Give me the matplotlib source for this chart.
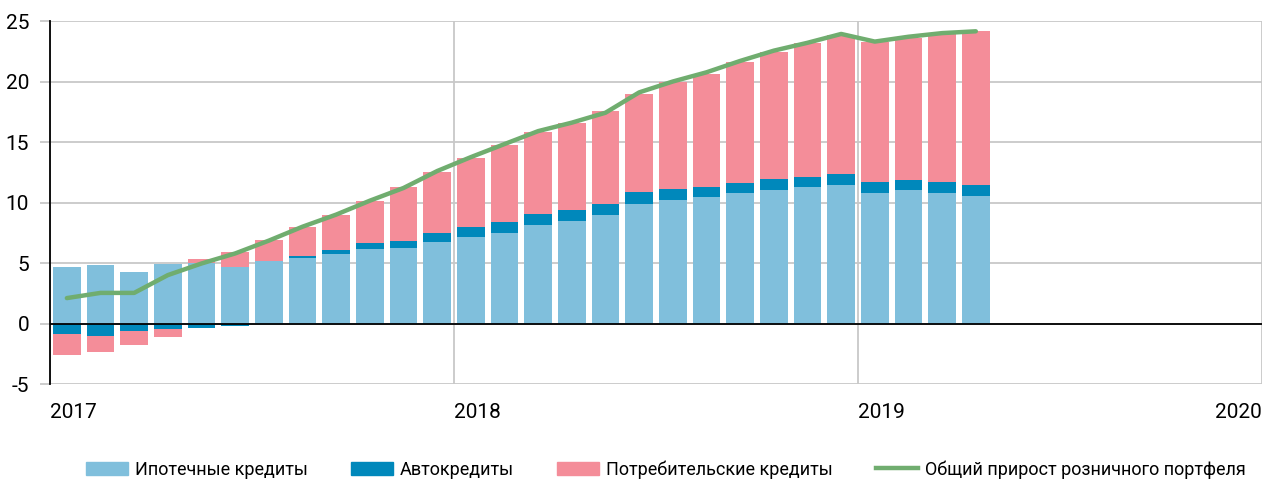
import numpy as np
import matplotlib.pyplot as plt
from matplotlib.patches import Patch
from matplotlib.lines import Line2D

plt.rcParams['font.family'] = ['Roboto', 'DejaVu Sans']
plt.rcParams['axes.unicode_minus'] = False

# monthly data, Jan 2017 - Apr 2019, percent
mortgage = [4.66, 4.82, 4.22, 4.93, 5.0, 4.66, 5.15, 5.43, 5.73, 6.17, 6.25, 6.75,
            7.14, 7.5, 8.13, 8.46, 8.96, 9.89, 10.2, 10.42, 10.78, 11.03, 11.25, 11.44,
            10.8, 11.0, 10.8, 10.53]
auto = [-0.88, -1.05, -0.66, -0.47, -0.36, -0.2, 0.0, 0.16, 0.36, 0.5, 0.58, 0.72,
        0.83, 0.85, 0.88, 0.91, 0.93, 0.97, 0.9, 0.85, 0.85, 0.91, 0.88, 0.91,
        0.89, 0.85, 0.92, 0.94]
consumer = [-1.72, -1.30, -1.11, -0.66, 0.29, 1.24, 1.74, 2.4, 2.91, 3.47, 4.42, 5.07,
            5.7, 6.42, 6.81, 7.2, 7.64, 8.13, 8.86, 9.38, 10.01, 10.53, 11.03, 11.5,
            11.58, 11.77, 12.27, 12.71]
total = [2.1, 2.53, 2.53, 4.0, 4.96, 5.79, 6.85, 8.0, 9.0, 10.15, 11.2, 12.6,
         13.75, 14.83, 15.9, 16.6, 17.42, 19.1, 20.0, 20.76, 21.7, 22.55, 23.2, 23.93,
         23.3, 23.7, 24.0, 24.15]
year_labels = ['2017', '2018', '2019', '2020']
names = ['Ипотечные кредиты', 'Автокредиты', 'Потребительские кредиты',
         'Общий прирост розничного портфеля']

c_mort = '#80bfdc'
c_auto = '#0088bb'
c_cons = '#f48d99'
c_line = '#70ad6f'
c_grid = '#c8c8c8'

fig = plt.figure(figsize=(12.76, 4.84), dpi=100)
ax = fig.add_axes([0.0392, 0.2066, 0.9498, 0.75])

x = np.arange(len(mortgage)) + 0.5
pos = np.zeros(len(x))
neg = np.zeros(len(x))
for vals, col in [(mortgage, c_mort), (auto, c_auto), (consumer, c_cons)]:
    v = np.array(vals)
    bottom = np.where(v >= 0, pos, neg)
    ax.bar(x, v, 0.83, bottom=bottom, color=col, zorder=2)
    pos = pos + np.where(v >= 0, v, 0)
    neg = neg + np.where(v < 0, v, 0)

ax.plot(x, total, color=c_line, lw=3.2, zorder=3, solid_capstyle='round')
ax.axhline(0, color='black', lw=1.3, zorder=4)

ax.set_xlim(0, 36)
ax.set_ylim(-5, 25)
ax.set_yticks(range(-5, 26, 5))
ax.set_xticks([0, 12, 24, 36])
ax.set_xticklabels(year_labels)
ax.grid(True, color=c_grid, lw=1.3, zorder=0)

for s in ['top', 'right', 'bottom']:
    ax.spines[s].set_visible(False)
ax.spines['left'].set_color('black')
ax.spines['left'].set_linewidth(1.3)
ax.spines['left'].set_zorder(5)

ax.tick_params(axis='y', length=7, color=c_grid, width=1.3, pad=8, labelsize=15)
ax.tick_params(axis='x', length=0, pad=14, labelsize=15)
labs = ax.get_xticklabels()
for lab in labs[:-1]:
    lab.set_horizontalalignment('left')
labs[-1].set_horizontalalignment('right')

handles = [Patch(color=c_mort), Patch(color=c_auto), Patch(color=c_cons),
           Line2D([], [], color=c_line, lw=3.2)]
fig.legend(handles, names, loc='center', bbox_to_anchor=(0.522, 0.03), ncol=4,
           frameon=False, fontsize=13, handlelength=2.3, handleheight=0.8,
           columnspacing=2.4, handletextpad=0.4)

fig.savefig('out.png', dpi=100)
